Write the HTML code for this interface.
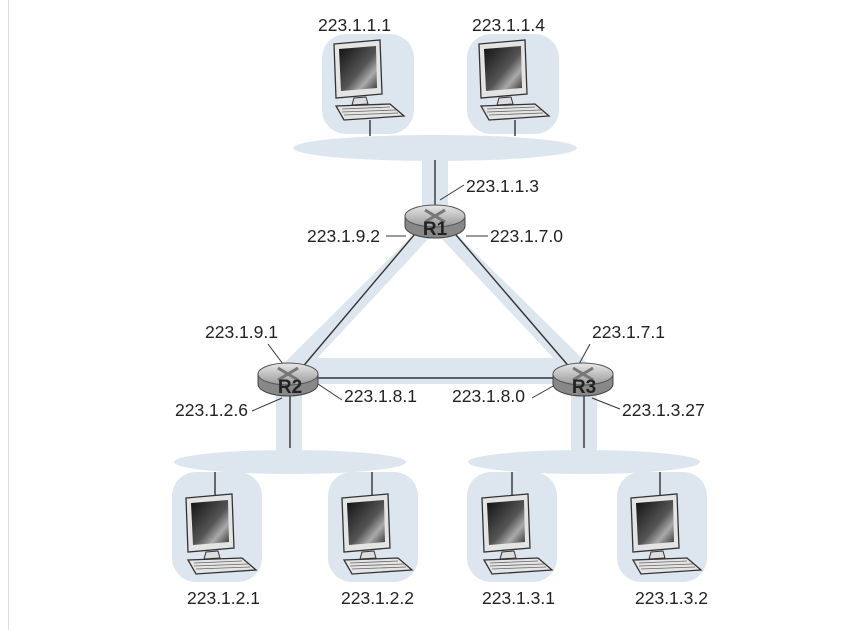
<!DOCTYPE html>
<html><head><meta charset="utf-8"><style>
body{margin:0;background:#fff;}
svg{display:block;}
text{font-family:"Liberation Sans",sans-serif;font-size:17.5px;fill:#222;}
</style></head><body>
<svg width="845" height="630" viewBox="0 0 845 630" xmlns="http://www.w3.org/2000/svg">
<defs>
<linearGradient id="scr" x1="0" y1="0" x2="1" y2="1">
<stop offset="0" stop-color="#111"/><stop offset="0.55" stop-color="#555"/><stop offset="0.75" stop-color="#aaa"/><stop offset="1" stop-color="#333"/>
</linearGradient>
<linearGradient id="rt" x1="0" y1="0" x2="0" y2="1">
<stop offset="0" stop-color="#e8e8e8"/><stop offset="1" stop-color="#999"/>
</linearGradient>
<g id="pc">
<path d="M-36,2 L10,-2 L12,52 L-34,56 Z" fill="#e4e4e4" stroke="#333" stroke-width="1.3"/>
<path d="M-31,7 L6,4 L7,46 L-29,49 Z" fill="url(#scr)"/>
<path d="M-16,56 L-4,55 L-2,62 L-18,63 Z" fill="#ddd" stroke="#333" stroke-width="1"/>
<path d="M-34,64 L20,62 L34,74 L-26,78 Z" fill="#e4e4e4" stroke="#333" stroke-width="1.3"/>
<path d="M-28,67 L20,65 M-28,70 L26,68 M-26,73 L28,71" stroke="#666" stroke-width="0.8"/>
</g>
<g id="router">
<path d="M-30,0 L-30,10 A30,12 0 0 0 30,10 L30,0" fill="#888" stroke="#444" stroke-width="1"/>
<ellipse cx="0" cy="0" rx="30" ry="11" fill="url(#rt)" stroke="#555" stroke-width="1"/>
<path d="M-10,-6 L0,0 L10,-6 M-10,6 L0,0 L10,6" stroke="#777" stroke-width="3" fill="none"/>
</g>
</defs>
<line x1="8.5" y1="0" x2="8.5" y2="630" stroke="#ddd"/>
<g fill="#dde6ee">
<rect x="322" y="34" width="92" height="100" rx="24"/>
<rect x="467" y="34" width="92" height="100" rx="24"/>
<ellipse cx="435" cy="148" rx="142" ry="13"/>
<rect x="422" y="148" width="26" height="60"/>
<path d="M426,222 L444,222 L297,380 L279,368 Z"/>
<path d="M426,222 L444,222 L592,368 L574,380 Z"/>
<rect x="288" y="358" width="295" height="26" rx="12"/>
<rect x="276" y="385" width="26" height="75"/>
<rect x="571" y="385" width="26" height="75"/>
<ellipse cx="290" cy="462" rx="116" ry="12"/>
<ellipse cx="584" cy="462" rx="116" ry="12"/>
<rect x="172" y="472" width="90" height="110" rx="24"/>
<rect x="328" y="472" width="90" height="110" rx="24"/>
<rect x="467" y="472" width="90" height="110" rx="24"/>
<rect x="617" y="472" width="90" height="110" rx="24"/>
</g>
<g stroke="#333" stroke-width="1.4">
<line x1="370" y1="120" x2="370" y2="136"/>
<line x1="515" y1="120" x2="515" y2="136"/>
<line x1="435" y1="160" x2="435" y2="208"/>
<line x1="420" y1="228" x2="300" y2="370"/>
<line x1="450" y1="228" x2="572" y2="370"/>
<line x1="315" y1="378" x2="556" y2="378"/>
<line x1="290" y1="388" x2="290" y2="448"/>
<line x1="584" y1="388" x2="584" y2="448"/>
<line x1="215" y1="472" x2="215" y2="498"/>
<line x1="372" y1="472" x2="372" y2="498"/>
<line x1="512" y1="472" x2="512" y2="498"/>
<line x1="660" y1="472" x2="660" y2="498"/>
</g>
<g stroke="#333" stroke-width="1">
<line x1="440" y1="200" x2="464" y2="185"/>
<line x1="386" y1="236" x2="406" y2="236"/>
<line x1="466" y1="236" x2="488" y2="236"/>
<line x1="268" y1="344" x2="286" y2="368"/>
<line x1="590" y1="344" x2="578" y2="366"/>
<line x1="252" y1="411" x2="282" y2="398"/>
<line x1="318" y1="384" x2="342" y2="400"/>
<line x1="532" y1="398" x2="555" y2="385"/>
<line x1="592" y1="398" x2="620" y2="409"/>
</g>
<use href="#pc" x="370" y="42"/>
<use href="#pc" x="515" y="42"/>
<use href="#pc" x="222" y="496"/>
<use href="#pc" x="378" y="496"/>
<use href="#pc" x="518" y="496"/>
<use href="#pc" x="667" y="496"/>
<use href="#router" x="435" y="216"/>
<use href="#router" x="288" y="374"/>
<use href="#router" x="583" y="374"/>
<text x="435" y="235" text-anchor="middle" style="font-weight:bold;font-size:19px">R1</text>
<text x="290" y="393" text-anchor="middle" style="font-weight:bold;font-size:19px">R2</text>
<text x="584" y="393" text-anchor="middle" style="font-weight:bold;font-size:19px">R3</text>
<text x="318" y="31">223.1.1.1</text>
<text x="472" y="31">223.1.1.4</text>
<text x="466" y="192">223.1.1.3</text>
<text x="307" y="242">223.1.9.2</text>
<text x="490" y="242">223.1.7.0</text>
<text x="205" y="338">223.1.9.1</text>
<text x="592" y="338">223.1.7.1</text>
<text x="344" y="402">223.1.8.1</text>
<text x="452" y="402">223.1.8.0</text>
<text x="175" y="416">223.1.2.6</text>
<text x="622" y="416">223.1.3.27</text>
<text x="187" y="604">223.1.2.1</text>
<text x="341" y="604">223.1.2.2</text>
<text x="482" y="604">223.1.3.1</text>
<text x="635" y="604">223.1.3.2</text>
</svg>
</body></html>
